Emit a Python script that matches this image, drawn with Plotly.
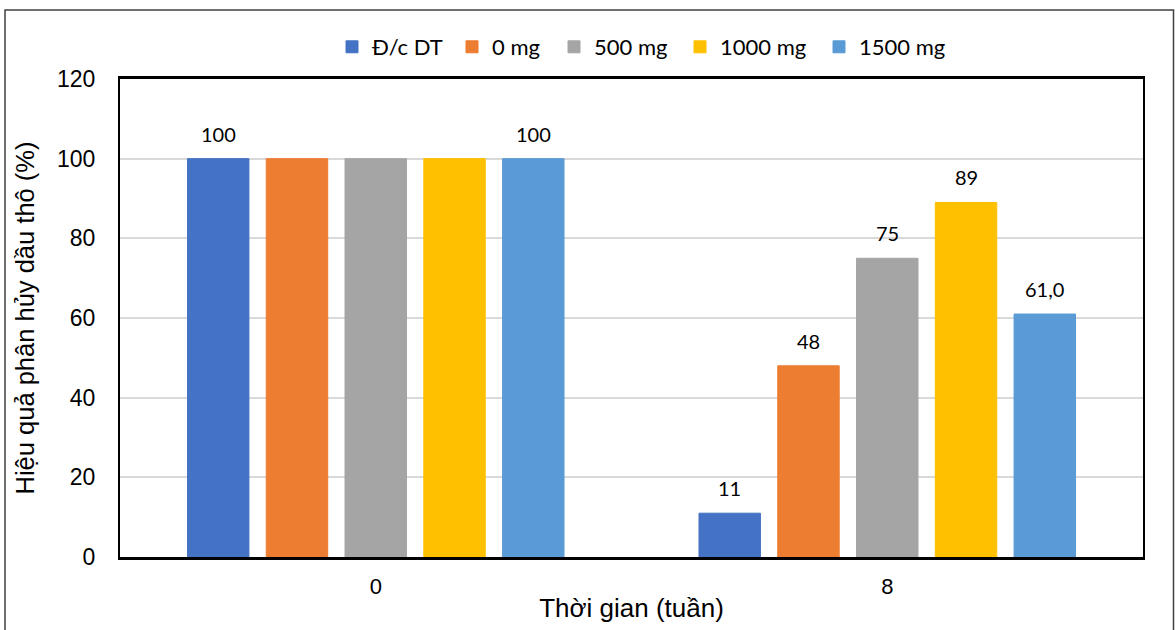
import plotly.graph_objects as go

# Sampling time (weeks) on the x axis
weeks = ["0", "8"]

# Crude-oil degradation efficiency (%) per treatment
series_names = ["Đ/c DT", "0 mg", "500 mg", "1000 mg", "1500 mg"]
dc_dt = [100, 11]
mg_0 = [100, 48]
mg_500 = [100, 75]
mg_1000 = [100, 89]
mg_1500 = [100, 61.0]

# Value labels shown above the bars ("" = no label)
labels_dc_dt = ["100", "11"]
labels_mg_0 = ["", "48"]
labels_mg_500 = ["", "75"]
labels_mg_1000 = ["", "89"]
labels_mg_1500 = ["100", "61,0"]

y_ticks = [0, 20, 40, 60, 80, 100, 120]

colors = ["#4472C4", "#ED7D31", "#A5A5A5", "#FFC000", "#5B9BD5"]
series_values = [dc_dt, mg_0, mg_500, mg_1000, mg_1500]
series_labels = [labels_dc_dt, labels_mg_0, labels_mg_500, labels_mg_1000, labels_mg_1500]

BARGAP = 0.23
BARGROUPGAP = 0.22
LABEL_FONT = dict(family="Lato, Calibri, 'Open Sans', sans-serif", size=20, color="#000000")
LEGEND_FONT = dict(family="Lato, Calibri, 'Open Sans', sans-serif", size=22, color="#000000")
AXIS_FONT = dict(family="'Liberation Sans', Arial, sans-serif", color="#000000")

# Plot-area pixel geometry (used for the outer frame and legend row)
W, H = 1175, 630
ML, MR, MT, MB = 120, 32, 79, 73
pw, ph = W - ML - MR, H - MT - MB

def px_x(px):
    return (px - ML) / pw

def px_y(py):
    return (H - MB - py) / ph

# One legend per series so the entries sit along a single spaced row
legend_ids = ["legend", "legend2", "legend3", "legend4", "legend5"]
legend_left_px = [332, 452, 554, 680, 819]

fig = go.Figure()
for name, vals, col, lid in zip(series_names, series_values, colors, legend_ids):
    fig.add_trace(go.Bar(
        x=weeks, y=vals, name=name, legend=lid,
        marker=dict(color=col, line=dict(width=1, color=col)),
        hoverinfo="x+y+name",
    ))

# Value labels placed over each bar's centre in its group
n = len(series_names)
slot = (1 - BARGAP) / n
annotations = []
for i, (vals, labs) in enumerate(zip(series_values, series_labels)):
    for ci, (v, lab) in enumerate(zip(vals, labs)):
        if not lab:
            continue
        annotations.append(dict(
            x=ci + (i - (n - 1) / 2) * slot, y=v, xref="x", yref="y",
            text=lab, showarrow=False, yanchor="bottom", yshift=11,
            font=LABEL_FONT,
        ))

legend_layout = {}
for lid, lx in zip(legend_ids, legend_left_px):
    legend_layout[lid] = dict(
        orientation="h", x=px_x(lx), xanchor="left", y=px_y(47), yanchor="middle",
        font=LEGEND_FONT, itemclick=False, bgcolor="rgba(0,0,0,0)",
    )

fig.update_layout(
    width=W, height=H,
    margin=dict(l=ML, r=MR, t=MT, b=MB, autoexpand=False),
    paper_bgcolor="#FFFFFF", plot_bgcolor="#FFFFFF",
    barmode="group", bargap=BARGAP, bargroupgap=BARGROUPGAP,
    showlegend=True,
    annotations=annotations,
    shapes=[dict(
        type="rect", xref="paper", yref="paper",
        x0=px_x(5), x1=px_x(1173.5), y0=px_y(645), y1=px_y(10),
        line=dict(color="#404040", width=1.5), fillcolor="rgba(0,0,0,0)", layer="below",
    )],
    xaxis=dict(
        type="category", automargin=False,
        showline=True, linecolor="#000000", linewidth=2.5, mirror=True,
        showgrid=False, ticks="", ticklabelstandoff=8,
        tickfont=dict(size=22, **AXIS_FONT),
        title=dict(text="Thời gian (tuần)", font=dict(size=26, **AXIS_FONT), standoff=1),
    ),
    yaxis=dict(
        range=[0, 120], tickvals=y_ticks, automargin=False,
        showline=True, linecolor="#000000", linewidth=2, mirror=True,
        showgrid=True, gridcolor="#D9D9D9", gridwidth=1.5,
        zeroline=False, ticks="", ticklabelstandoff=18,
        tickfont=dict(size=23, **AXIS_FONT),
        title=dict(text="Hiệu quả phân hủy dầu thô (%)", font=dict(size=25.5, **AXIS_FONT), standoff=15),
    ),
    **legend_layout,
)

fig.write_html("out.html")
